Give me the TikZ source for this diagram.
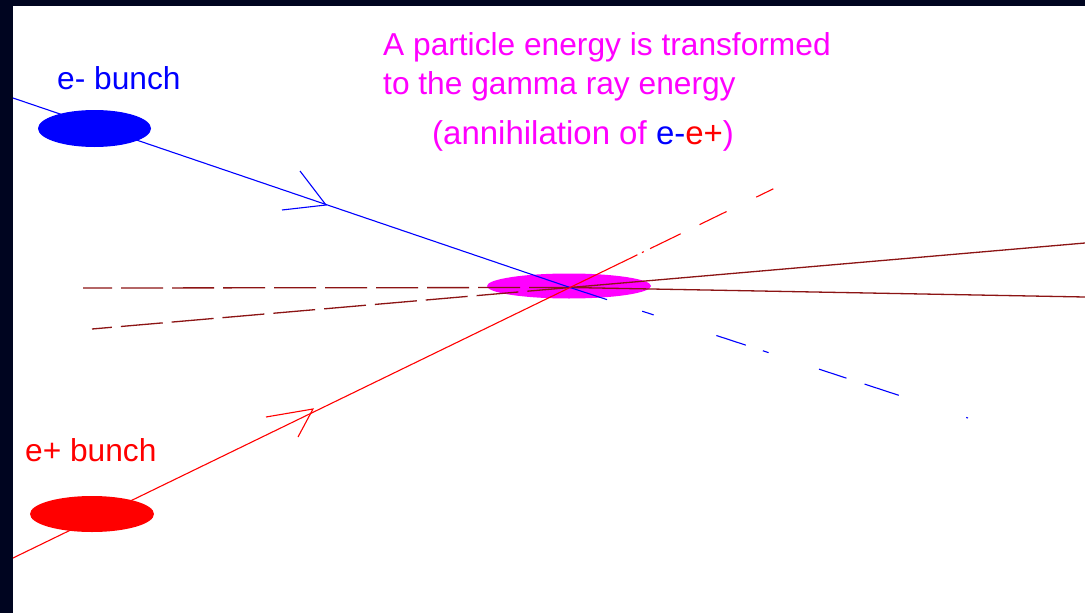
\documentclass[tikz,border=0pt]{standalone}
\usepackage{fontspec}
\setmainfont{Liberation Sans}
\usetikzlibrary{shapes.geometric}
\definecolor{navy}{RGB}{0,5,32}
\definecolor{gammared}{RGB}{140,20,20}
\definecolor{mag}{RGB}{255,0,255}
\begin{document}
\begin{tikzpicture}[x=1pt,y=-1pt,
  lbl/.style={anchor=base west, inner sep=0pt, font=\fontsize{31.7}{37}\selectfont},
  bunch/.style={ellipse, draw=none, inner sep=0pt},
  beam/.style={line width=1.1pt},
  gam/.style={gammared, line width=1.3pt},
  gamdash/.style={gam, dash pattern=on 42pt off 9pt},
]
\useasboundingbox (0,0) rectangle (1085,613);
\fill[navy] (0,0) rectangle (1085,613);
\fill[white] (13,6) rectangle (1085,613);

% interaction point
\node[bunch, fill=mag, minimum width=164pt, minimum height=25pt] (ip) at (569,286) {};
\coordinate (C) at (570,287.5);

% coordinates
\coordinate (bstart) at (13,98);
\coordinate (bend) at (968,418);
\coordinate (rstart) at (13,558);
\coordinate (rend) at (775,188);
\coordinate (gAstart) at (83,288);
\coordinate (gAend) at (1085,297);
\coordinate (gBstart) at (92,329);
\coordinate (gBend) at (1085,243);

% gamma rays
\draw[gamdash, dash phase=13pt] (gAstart) -- (C);
\draw[gam] (C) -- (gAend);
\draw[gamdash, dash phase=22pt] (gBstart) -- (C);
\draw[gam] (C) -- (gBend);

% electron beam
\draw[beam, blue] (bstart) -- (C);
\draw[beam, blue, dash pattern=on 39pt off 37pt on 12pt off 66pt on 31pt off 18pt on 6pt off 53pt on 29pt off 19pt on 36pt off 71pt on 3pt off 60pt] (C) -- (bend);
\coordinate (barr) at (326,205);
\coordinate (barr1) at (300,171);
\coordinate (barr2) at (282,210);
\draw[beam, blue] (barr1) -- (barr) -- (barr2);

% positron beam
\draw[beam, red] (rstart) -- (C);
\draw[beam, red, dash pattern=on 75pt off 5pt on 2pt off 7pt on 34pt off 21pt on 30pt off 33pt on 19pt off 60pt] (C) -- (rend);
\coordinate (rarr) at (313,409);
\coordinate (rarr1) at (266,417);
\coordinate (rarr2) at (298,437);
\draw[beam, red] (rarr1) -- (rarr) -- (rarr2);

% bunches
\node[bunch, fill=blue, minimum width=113pt, minimum height=37pt] (eb) at (94.5,128.5) {};
\node[bunch, fill=red, minimum width=124pt, minimum height=36pt] (pb) at (92,514) {};

% labels
\node[lbl, blue] (el) at (57,89) {e- bunch};
\node[lbl, red] (pl) at (25,461) {e+ bunch};
\node[lbl, mag] (t1) at (383,55) {A particle energy is transformed};
\node[lbl, mag] (t2) at (383,94) {to the gamma ray energy};
\node[lbl, mag, font=\fontsize{33}{37}\selectfont] (t3) at (432,144) {(annihilation of \textcolor{blue}{e-}\textcolor{red}{e+})};
\end{tikzpicture}
\end{document}
